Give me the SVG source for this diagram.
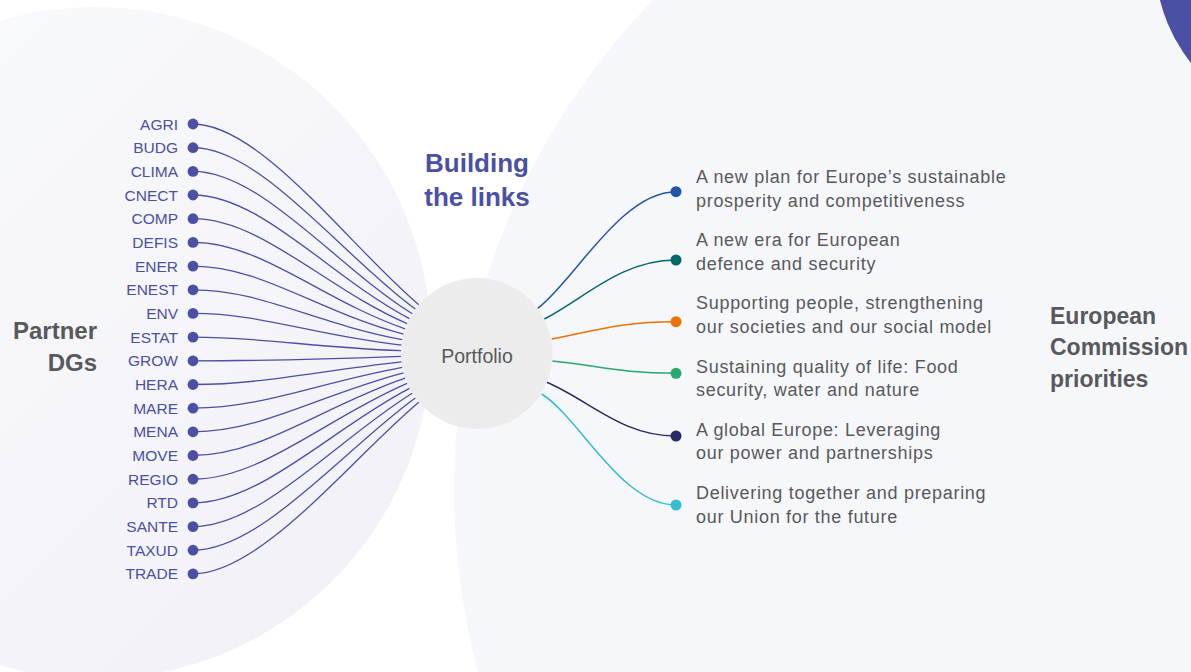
<svg xmlns="http://www.w3.org/2000/svg" width="1191" height="672" viewBox="0 0 1191 672">
<defs>
<linearGradient id="lg" x1="0" y1="0" x2="1" y2="1">
<stop offset="0" stop-color="#fafbfe"/>
<stop offset="1" stop-color="#f0f0f6"/>
</linearGradient>
<style>
.dg{font-family:"Liberation Sans",Arial,sans-serif;font-size:15.5px;fill:#4b50a5;text-anchor:end}
.dot{fill:#4b50a5}
.ln{fill:none;stroke:#4b50a5;stroke-width:1.3}
.rl{fill:none;stroke-width:1.5}
.pr{font-family:"Liberation Sans",Arial,sans-serif;font-size:18px;letter-spacing:0.7px;fill:#58595b}
.hd{font-family:"Liberation Sans",Arial,sans-serif;font-weight:bold;fill:#58595b}
.bl{font-family:"Liberation Sans",Arial,sans-serif;font-weight:bold;font-size:26px;fill:#4b50a5;text-anchor:middle}
</style>
</defs>
<rect width="1191" height="672" fill="#ffffff"/>
<circle cx="95" cy="343" r="336" fill="url(#lg)"/>
<circle cx="1157" cy="490" r="703" fill="#f6f7fb"/>
<circle cx="1320" cy="-40" r="165" fill="#4b50a5"/>

<g id="connectors">
<path class="ln" d="M193,124.0 C261,124.0 351.37,248.08 418.78,304.65"/>
<path class="ln" d="M193,147.7 C261,147.7 343.98,257.58 415.36,309.05"/>
<path class="ln" d="M193,171.4 C261,171.4 337.29,267.61 412.26,313.70"/>
<path class="ln" d="M193,195.0 C261,195.0 331.35,278.11 409.50,318.56"/>
<path class="ln" d="M193,218.7 C261,218.7 326.22,289.00 407.13,323.61"/>
<path class="ln" d="M193,242.4 C261,242.4 321.89,300.25 405.12,328.82"/>
<path class="ln" d="M193,266.1 C261,266.1 318.40,311.78 403.50,334.17"/>
<path class="ln" d="M193,289.8 C261,289.8 315.76,323.54 402.28,339.62"/>
<path class="ln" d="M193,313.4 C261,313.4 314.00,335.46 401.46,345.14"/>
<path class="ln" d="M193,337.1 C261,337.1 313.11,347.48 401.05,350.71"/>
<path class="ln" d="M193,360.8 C261,360.8 313.11,359.52 401.05,356.29"/>
<path class="ln" d="M193,384.5 C261,384.5 314.00,371.54 401.46,361.86"/>
<path class="ln" d="M193,408.2 C261,408.2 315.76,383.46 402.28,367.38"/>
<path class="ln" d="M193,431.8 C261,431.8 318.40,395.22 403.50,372.83"/>
<path class="ln" d="M193,455.5 C261,455.5 321.89,406.75 405.12,378.18"/>
<path class="ln" d="M193,479.2 C261,479.2 326.22,418.00 407.13,383.39"/>
<path class="ln" d="M193,502.9 C261,502.9 331.35,428.89 409.50,388.44"/>
<path class="ln" d="M193,526.6 C261,526.6 337.29,439.39 412.26,393.30"/>
<path class="ln" d="M193,550.2 C261,550.2 343.98,449.42 415.36,397.95"/>
<path class="ln" d="M193,573.9 C261,573.9 351.37,458.92 418.78,402.35"/>
<path class="rl" stroke="#1f55a5" d="M537.7,308.3 C573.8,281.4 621,191.7 676,191.7"/>
<path class="rl" stroke="#00676b" d="M544.3,319 C584.4,298.5 621,260 676,260"/>
<path class="rl" stroke="#ee7203" d="M551.7,339 C595.9,330.4 621,321.7 676,321.7"/>
<path class="rl" stroke="#2aa86b" d="M552.3,361 C597.1,365.5 621,373.3 676,373.3"/>
<path class="rl" stroke="#2d2866" d="M546.7,382.3 C588.3,399.5 621,436 676,436"/>
<path class="rl" stroke="#33bdd0" d="M541.7,394 C579.9,417.9 621,505 676,505"/>
</g>

<g id="portfolio">
<circle cx="477" cy="353.5" r="75.5" fill="#ececec"/>
<text x="477" y="362.5" font-family="'Liberation Sans',Arial,sans-serif" font-size="19.5" fill="#58595b" text-anchor="middle">Portfolio</text>
</g>

<g id="title-building">
<text class="bl" x="477" y="172">Building</text>
<text class="bl" x="477" y="206">the links</text>
</g>

<g id="partner-dgs">
<text class="hd" font-size="24" text-anchor="end" x="97" y="339">Partner</text>
<text class="hd" font-size="24" text-anchor="end" x="97" y="371">DGs</text>
</g>

<g id="ec-priorities">
<text class="hd" font-size="23" x="1050" y="323.5">European</text>
<text class="hd" font-size="23" x="1050" y="355">Commission</text>
<text class="hd" font-size="23" x="1050" y="386.5">priorities</text>
</g>

<g id="dg-agri"><circle class="dot" cx="193" cy="124.0" r="5.4"/><text class="dg" x="178" y="129.5">AGRI</text></g>
<g id="dg-budg"><circle class="dot" cx="193" cy="147.7" r="5.4"/><text class="dg" x="178" y="153.2">BUDG</text></g>
<g id="dg-clima"><circle class="dot" cx="193" cy="171.4" r="5.4"/><text class="dg" x="178" y="176.9">CLIMA</text></g>
<g id="dg-cnect"><circle class="dot" cx="193" cy="195.0" r="5.4"/><text class="dg" x="178" y="200.5">CNECT</text></g>
<g id="dg-comp"><circle class="dot" cx="193" cy="218.7" r="5.4"/><text class="dg" x="178" y="224.2">COMP</text></g>
<g id="dg-defis"><circle class="dot" cx="193" cy="242.4" r="5.4"/><text class="dg" x="178" y="247.9">DEFIS</text></g>
<g id="dg-ener"><circle class="dot" cx="193" cy="266.1" r="5.4"/><text class="dg" x="178" y="271.6">ENER</text></g>
<g id="dg-enest"><circle class="dot" cx="193" cy="289.8" r="5.4"/><text class="dg" x="178" y="295.3">ENEST</text></g>
<g id="dg-env"><circle class="dot" cx="193" cy="313.4" r="5.4"/><text class="dg" x="178" y="318.9">ENV</text></g>
<g id="dg-estat"><circle class="dot" cx="193" cy="337.1" r="5.4"/><text class="dg" x="178" y="342.6">ESTAT</text></g>
<g id="dg-grow"><circle class="dot" cx="193" cy="360.8" r="5.4"/><text class="dg" x="178" y="366.3">GROW</text></g>
<g id="dg-hera"><circle class="dot" cx="193" cy="384.5" r="5.4"/><text class="dg" x="178" y="390.0">HERA</text></g>
<g id="dg-mare"><circle class="dot" cx="193" cy="408.2" r="5.4"/><text class="dg" x="178" y="413.7">MARE</text></g>
<g id="dg-mena"><circle class="dot" cx="193" cy="431.8" r="5.4"/><text class="dg" x="178" y="437.3">MENA</text></g>
<g id="dg-move"><circle class="dot" cx="193" cy="455.5" r="5.4"/><text class="dg" x="178" y="461.0">MOVE</text></g>
<g id="dg-regio"><circle class="dot" cx="193" cy="479.2" r="5.4"/><text class="dg" x="178" y="484.7">REGIO</text></g>
<g id="dg-rtd"><circle class="dot" cx="193" cy="502.9" r="5.4"/><text class="dg" x="178" y="508.4">RTD</text></g>
<g id="dg-sante"><circle class="dot" cx="193" cy="526.6" r="5.4"/><text class="dg" x="178" y="532.1">SANTE</text></g>
<g id="dg-taxud"><circle class="dot" cx="193" cy="550.2" r="5.4"/><text class="dg" x="178" y="555.7">TAXUD</text></g>
<g id="dg-trade"><circle class="dot" cx="193" cy="573.9" r="5.4"/><text class="dg" x="178" y="579.4">TRADE</text></g>

<g id="priority-1"><circle cx="676" cy="191.7" r="5.5" fill="#1f55a5"/><text class="pr" x="696" y="183">A new plan for Europe’s sustainable</text><text class="pr" x="696" y="206.5">prosperity and competitiveness</text></g>
<g id="priority-2"><circle cx="676" cy="260" r="5.5" fill="#00676b"/><text class="pr" x="696" y="246.2">A new era for European</text><text class="pr" x="696" y="269.7">defence and security</text></g>
<g id="priority-3"><circle cx="676" cy="321.7" r="5.5" fill="#ee7203"/><text class="pr" x="696" y="309.4">Supporting people, strengthening</text><text class="pr" x="696" y="332.9">our societies and our social model</text></g>
<g id="priority-4"><circle cx="676" cy="373.3" r="5.5" fill="#2aa86b"/><text class="pr" x="696" y="372.6">Sustaining quality of life: Food</text><text class="pr" x="696" y="396.1">security, water and nature</text></g>
<g id="priority-5"><circle cx="676" cy="436" r="5.5" fill="#2d2866"/><text class="pr" x="696" y="435.8">A global Europe: Leveraging</text><text class="pr" x="696" y="459.3">our power and partnerships</text></g>
<g id="priority-6"><circle cx="676" cy="505" r="5.5" fill="#33bdd0"/><text class="pr" x="696" y="499">Delivering together and preparing</text><text class="pr" x="696" y="522.5">our Union for the future</text></g>
</svg>
